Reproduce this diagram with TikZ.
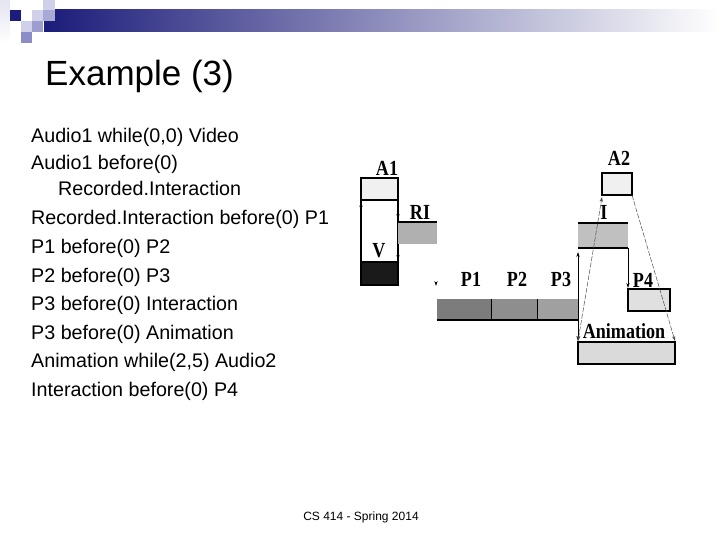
\documentclass[tikz,border=0pt]{standalone}
\usepackage{fontspec}
\setmainfont{Liberation Sans}
\newfontfamily\diagfont[FakeStretch=0.84]{Liberation Serif}
\usetikzlibrary{arrows.meta,positioning,calc}

\definecolor{hdrnavy}{RGB}{28,28,122}
\definecolor{pixpale}{RGB}{228,228,242}
\definecolor{pixlight}{RGB}{208,208,234}
\definecolor{pixmid}{RGB}{140,140,200}
\definecolor{audiofill}{RGB}{240,240,240}
\definecolor{videofill}{RGB}{26,26,26}
\definecolor{rifill}{RGB}{176,176,176}
\definecolor{ponefill}{RGB}{124,124,124}
\definecolor{ptwofill}{RGB}{142,142,142}
\definecolor{pthreefill}{RGB}{160,160,160}
\definecolor{ifill}{RGB}{192,192,192}
\definecolor{pfourfill}{RGB}{224,224,224}
\definecolor{animfill}{RGB}{218,218,218}

\tikzset{
    mediabox/.style={
        rectangle,              % each media object is a plain bar
        draw=black,
        line width=1.2pt,
        inner sep=0pt,
        outer sep=0pt,          % anchors sit on the border itself
        anchor=north west       % placed by its top left corner
    },
    openbox/.style={
        mediabox,
        draw=none               % only some edges are drawn afterwards
    },
    edgeline/.style={line width=1.8pt},
    medialbl/.style={
        font=\diagfont\bfseries\fontsize{21.5}{21}\selectfont,
        inner sep=0pt
    },
    bodyline/.style={
        font=\fontsize{19.7}{24}\selectfont,
        anchor=base west,
        inner sep=0pt
    },
    syncline/.style={line width=0.5pt, draw=black!70, dash pattern=on 5pt off 1.5pt},
    markline/.style={line width=0.6pt}
}

\begin{document}
\begin{tikzpicture}[x=1pt, y=-1pt,
    >={Stealth[length=5pt,width=3.2pt]}]
\useasboundingbox (0,0) rectangle (720,540);
\fill[white] (0,0) rectangle (720,540);

% slide header
\shade[left color=hdrnavy, right color=white] (44,10) rectangle (720,32);
\shade[top color=pixpale, bottom color=white] (0,0) rectangle (10,43);
\fill[hdrnavy] (10,10) rectangle (21,21);
\fill[pixlight] (32,10) rectangle (43,21);
\fill[pixlight] (43,0) rectangle (55,10);
\fill[pixmid!75] (43,10) rectangle (55,21);
\fill[pixlight] (21,21) rectangle (32,32);
\fill[pixmid!85] (32,21) rectangle (43,32);
\fill[pixmid] (21,32) rectangle (32,43);

\node[font=\fontsize{35}{40}\selectfont, anchor=base west, inner sep=0pt] (title) at (45,86) {Example (3)};

% constraints
\node[bodyline] (l1) at (31,143) {Audio1 while(0,0) Video};
\node[bodyline] (l2) at (31,170) {Audio1 before(0)};
\node[bodyline] (l3) at (58,196) {Recorded.Interaction};
\node[bodyline] (l4) at (31,225) {Recorded.Interaction before(0) P1};
\node[bodyline] (l5) at (31,254) {P1 before(0) P2};
\node[bodyline] (l6) at (31,282) {P2 before(0) P3};
\node[bodyline] (l7) at (31,310) {P3 before(0) Interaction};
\node[bodyline] (l8) at (31,339) {P3 before(0) Animation};
\node[bodyline] (l9) at (31,367) {Animation while(2,5) Audio2};
\node[bodyline] (l10) at (31,396) {Interaction before(0) P4};

% timeline
\node[mediabox, fill=audiofill, minimum width=37pt, minimum height=22pt] (a1) at (361,178) {};
\node[mediabox, fill=white, minimum width=37pt, minimum height=62pt, below=0pt of a1] (gap) {};
\node[mediabox, fill=videofill, minimum width=37pt, minimum height=23pt, below=0pt of gap] (video) {};

\node[openbox, fill=rifill, minimum width=39pt, minimum height=22pt] (ri) at (398,222) {};
\draw[edgeline] (ri.north west) -- (ri.north east);

\node[openbox, fill=ponefill, minimum width=54pt, minimum height=21pt] (p1) at (437,299) {};
\node[openbox, fill=ptwofill, minimum width=46pt, minimum height=21pt, right=0pt of p1] (p2) {};
\node[openbox, fill=pthreefill, minimum width=41pt, minimum height=21pt, right=0pt of p2] (p3) {};
\draw[line width=0.6pt] (p1.north east) -- (p1.south east);
\draw[line width=0.6pt] (p2.north east) -- (p2.south east);
\draw[edgeline] (p1.south west) -- (p3.south east);

\node[openbox, fill=ifill, minimum width=50pt, minimum height=25pt] (inter) at (578,223) {};
\draw[edgeline] (inter.north west) -- (inter.north east);
\draw[edgeline] (inter.south west) -- (inter.south east);

\node[mediabox, fill=pfourfill, minimum width=42pt, minimum height=22pt] (p4) at (628,289) {};
\node[mediabox, fill=animfill, minimum width=97pt, minimum height=22pt] (anim) at (578,342) {};
\node[mediabox, fill=audiofill, minimum width=30pt, minimum height=22pt] (a2) at (602,173) {};

% labels
\node[medialbl] (a1lbl) at (387,168) {A1};
\node[medialbl] (rilbl) at (420,212) {RI};
\node[medialbl] (vlbl) at (379,251) {V};
\node[medialbl] (p1lbl) at (471,279) {P1};
\node[medialbl] (p2lbl) at (517,279) {P2};
\node[medialbl] (p3lbl) at (561,279) {P3};
\node[medialbl] (p4lbl) at (643,280) {P4};
\node[medialbl] (ilbl) at (604,212) {I};
\node[medialbl] (a2lbl) at (619,158) {A2};
\node[medialbl] (animlbl) at (624,331) {Animation};

% sync arrows
\draw[markline,->] ([yshift=-9pt]gap.north west) -- ([yshift=-2pt]gap.north west);
\draw[markline,->] ([yshift=12pt]ri.north west) -- ([yshift=3pt]ri.north west);
\draw[markline,->] ([yshift=10pt]video.north east) -- ([yshift=2pt]video.north east);
\draw[markline,->] ([xshift=-1pt,yshift=17pt]p1.north west) -- ([xshift=-1pt,yshift=13pt]p1.north west);
\draw[markline,<->] ([yshift=-4pt]inter.south west) -- ([yshift=1pt]anim.north west);
\draw[markline,->] (inter.south east) -- ([yshift=1pt]p4.north west);
\draw[syncline,<->] ([yshift=1pt]anim.north west) -- ([yshift=-2pt]a2.south west);
\draw[syncline,->] (a2.south east) -- ([yshift=1pt]anim.north east);

% footer
\node[font=\fontsize{12}{14}\selectfont, inner sep=0pt] (footer) at (361,517) {CS 414 - Spring 2014};
\end{tikzpicture}
\end{document}
